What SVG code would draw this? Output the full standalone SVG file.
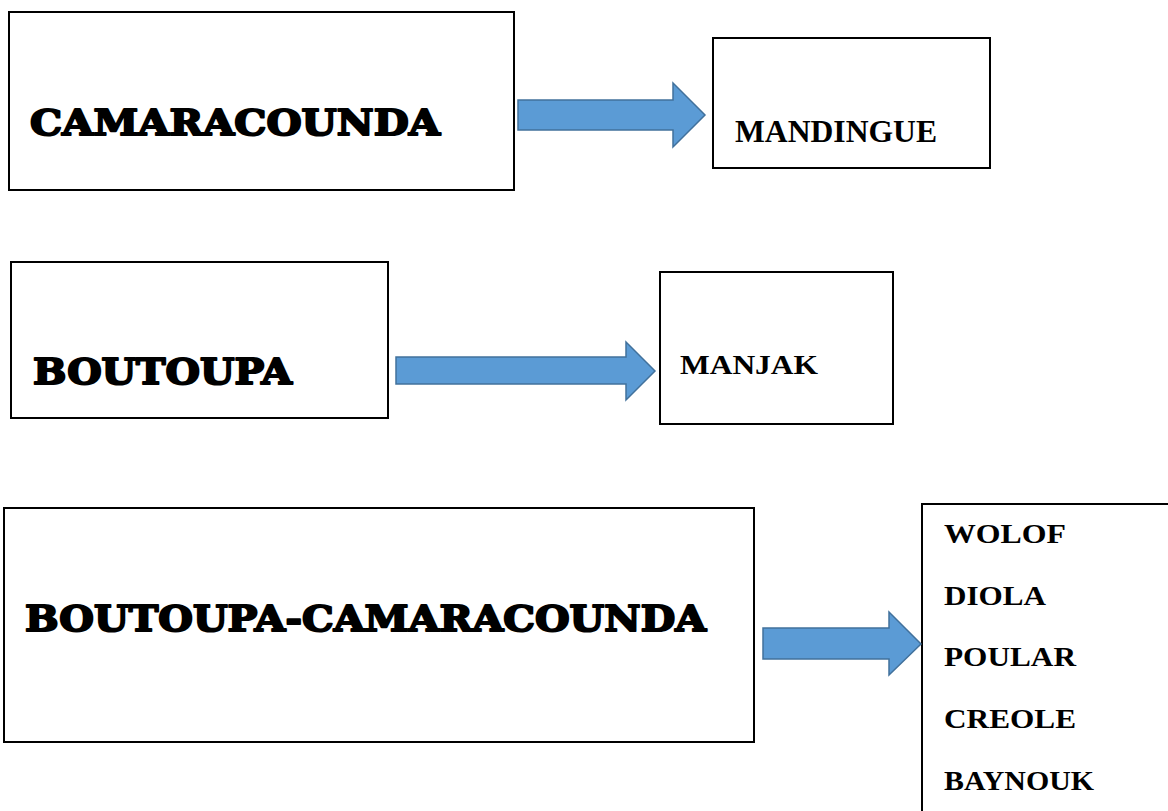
<svg xmlns="http://www.w3.org/2000/svg" width="1168" height="811" viewBox="0 0 1168 811">
<style>
.box{fill:#fff;stroke:#000;stroke-width:2}
.big{font-family:"DejaVu Serif","Liberation Serif",serif;font-weight:bold;font-size:36px;fill:#000;stroke:#000;stroke-width:2;stroke-linejoin:round}
.lbl{font-family:"Liberation Serif","Times New Roman",serif;font-weight:bold;fill:#000}
.arr{fill:#5B9BD5;stroke:#41719C;stroke-width:1.5}
</style>
<rect width="1168" height="811" fill="#fff"/>
<g id="camaracounda">
<rect class="box" x="9" y="12" width="505" height="178"/>
<text class="big" x="30" y="135" textLength="410" lengthAdjust="spacingAndGlyphs">CAMARACOUNDA</text>
</g>
<g id="mandingue">
<rect class="box" x="713" y="38" width="277" height="130"/>
<text class="lbl" x="735" y="142" font-size="32" textLength="202" lengthAdjust="spacingAndGlyphs">MANDINGUE</text>
</g>
<g id="boutoupa">
<rect class="box" x="11" y="262" width="377" height="156"/>
<text class="big" x="33" y="384" textLength="259" lengthAdjust="spacingAndGlyphs">BOUTOUPA</text>
</g>
<g id="manjak">
<rect class="box" x="660" y="272" width="233" height="152"/>
<text class="lbl" x="680" y="374" font-size="27" textLength="138" lengthAdjust="spacingAndGlyphs">MANJAK</text>
</g>
<g id="boutoupa-camaracounda">
<rect class="box" x="4" y="508" width="750" height="234"/>
<text class="big" x="25" y="631" textLength="681" lengthAdjust="spacingAndGlyphs">BOUTOUPA-CAMARACOUNDA</text>
</g>
<g id="langues">
<rect class="box" x="922" y="504" width="260" height="320"/>
<text class="lbl" x="944" y="543" font-size="27" textLength="122" lengthAdjust="spacingAndGlyphs">WOLOF</text>
<text class="lbl" x="944" y="605" font-size="27" textLength="102" lengthAdjust="spacingAndGlyphs">DIOLA</text>
<text class="lbl" x="944" y="666" font-size="27" textLength="132" lengthAdjust="spacingAndGlyphs">POULAR</text>
<text class="lbl" x="944" y="728" font-size="27" textLength="132" lengthAdjust="spacingAndGlyphs">CREOLE</text>
<text class="lbl" x="944" y="790" font-size="27" textLength="150" lengthAdjust="spacingAndGlyphs">BAYNOUK</text>
</g>
<g id="connectors">
<polygon class="arr" points="518,100 673,100 673,83 705,115 673,147 673,130 518,130"/>
<polygon class="arr" points="396,357 626,357 626,342 655,371 626,400 626,384 396,384"/>
<polygon class="arr" points="763,628 889,628 889,612 921,644 889,675 889,659 763,659"/>
</g>
</svg>
